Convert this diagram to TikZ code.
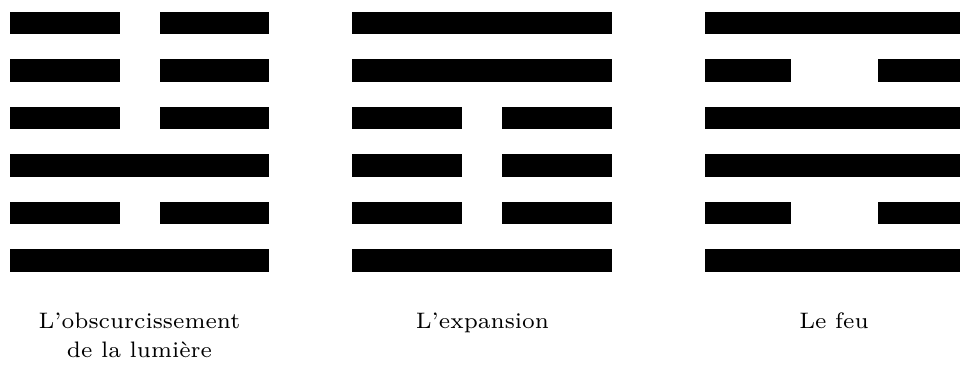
\documentclass[tikz,border=0pt]{standalone}
\begin{document}
\begin{tikzpicture}[x=1pt,y=-1pt,
  lbl/.style={anchor=base,align=center,font=\fontsize{7}{9.06}\selectfont,scale=3.2,transform shape,inner sep=0pt}]
\useasboundingbox (0,0) rectangle (961,366);
\def\bh{22.5}
% solid bar: #1 left, #2 right, #3 row
\newcommand\solidbar[3]{\fill ({#1},{12+47.4*#3}) rectangle ({#2},{12+47.4*#3+\bh});}
% hexagram 1
\foreach \r in {0,1,2,4}{\solidbar{10}{120}{\r}\solidbar{160}{269}{\r}}
\foreach \r in {3,5}{\solidbar{10}{269}{\r}}
% hexagram 2
\foreach \r in {0,1,5}{\solidbar{352}{612}{\r}}
\foreach \r in {2,3,4}{\solidbar{352}{462}{\r}\solidbar{502}{612}{\r}}
% hexagram 3
\foreach \r in {0,2,3,5}{\solidbar{705}{960}{\r}}
\foreach \r in {1,4}{\solidbar{705}{791}{\r}\solidbar{878}{960}{\r}}
\node[lbl] (l1) at (139.5,357) {L'obscurcissement\\de la lumière};
\node[lbl] (l2) at (482.5,328) {L'expansion};
\node[lbl] (l3) at (834,328) {Le feu};
\end{tikzpicture}
\end{document}
